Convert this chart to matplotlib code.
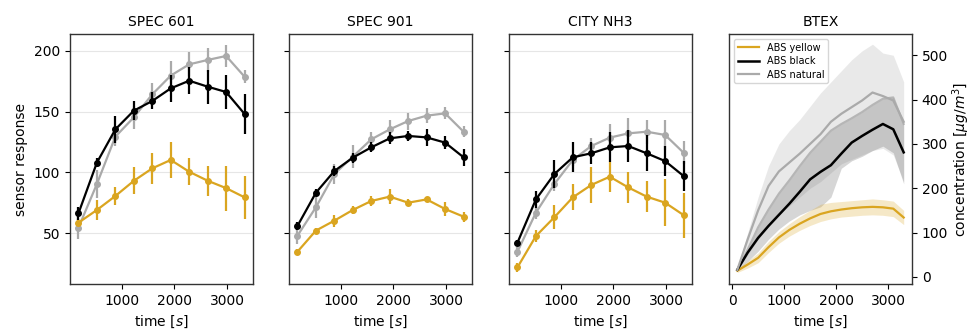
import numpy as np
import matplotlib
matplotlib.use("Agg")
import matplotlib.pyplot as plt

# ---------------- data ----------------
time_pts = [180, 530, 880, 1230, 1580, 1930, 2280, 2630, 2980, 3330]

spec601_yellow = [58.5, 69, 80.5, 93, 103.3, 110.2, 100.5, 93.1, 87, 79.4]
spec601_yellow_err = [3, 8, 7.5, 11, 13, 14.5, 11, 12.4, 18.5, 17.5]
spec601_black = [66.2, 108, 135.4, 150.8, 158.8, 169.2, 175.5, 170.6, 166.2, 148.1]
spec601_black_err = [5.5, 4, 11, 8, 7, 11, 11, 14, 14, 16.5]
spec601_natural = [54.4, 90.4, 129.4, 145.3, 164.3, 179.7, 189, 192.6, 195.9, 178.8]
spec601_natural_err = [9.6, 11.7, 7.5, 9.6, 9.6, 12, 10, 9.5, 9, 5.5]

spec901_yellow = [34.6, 52, 60.2, 69, 76.4, 80, 75, 77.7, 69.8, 63.5]
spec901_yellow_err = [2, 2.5, 5, 3.5, 4, 6, 3, 2, 6, 4]
spec901_black = [55.8, 83.2, 101.1, 112.1, 120.6, 128, 130, 128.8, 124.5, 112.4]
spec901_black_err = [3, 3, 4, 4, 4, 5, 4, 7, 5.5, 7]
spec901_natural = [47.8, 71.2, 98.6, 112.9, 127.2, 135.4, 142.3, 146.7, 148.6, 133.5]
spec901_natural_err = [7, 9, 8, 9.6, 6, 7.5, 7, 6, 5, 4.7]

cityNH3_yellow = [21.7, 47.5, 63, 79.4, 89.6, 96.4, 87.6, 80, 75, 64.8]
cityNH3_yellow_err = [3.4, 5, 10, 10.7, 15, 12.4, 13, 13, 19.5, 18.5]
cityNH3_black = [42, 77.7, 98.6, 112.4, 115.7, 120.6, 121.7, 115.7, 109.3, 97]
cityNH3_black_err = [2, 7, 11.7, 12.4, 9, 12.4, 13, 14.7, 12.4, 12.4]
cityNH3_natural = [34.6, 66.8, 90.4, 110.2, 121.7, 128.6, 132.1, 133.5, 130.8, 116.2]
cityNH3_natural_err = [4, 5, 5.5, 5, 7, 11.4, 12.4, 10, 12.4, 9.6]

btex_time = [100, 300, 500, 700, 900, 1100, 1300, 1500, 1700, 1900, 2100, 2300, 2500, 2700, 2900, 3100, 3300]
btex_yellow = [14, 28, 43, 67, 89, 106, 120, 132, 142, 148, 152, 155, 157, 158, 157, 154, 134]
btex_yellow_lo = [10, 20, 32, 55, 76, 92, 105, 116, 125, 131, 135, 137, 139, 140, 139, 136, 118]
btex_yellow_hi = [18, 36, 54, 80, 102, 120, 136, 150, 164, 168, 170, 172, 174, 176, 174, 171, 150]
btex_black = [16, 55, 88, 115, 140, 165, 192, 220, 237, 252, 278, 303, 318, 332, 345, 333, 281]
btex_black_lo = [14, 35, 58, 85, 108, 126, 140, 150, 158, 180, 245, 262, 272, 285, 295, 280, 210]
btex_black_hi = [16, 62, 112, 152, 188, 218, 250, 280, 305, 330, 345, 358, 372, 388, 402, 405, 345]
btex_natural = [16, 85, 150, 205, 238, 258, 278, 300, 322, 350, 368, 383, 398, 416, 408, 398, 350]
btex_natural_lo = [15, 50, 85, 115, 140, 160, 180, 200, 215, 235, 255, 265, 275, 285, 290, 275, 215]
btex_natural_hi = [18, 100, 180, 250, 300, 330, 355, 385, 415, 440, 465, 490, 510, 525, 505, 500, 440]

titles = ["SPEC 601", "SPEC 901", "CITY NH3", "BTEX"]
labels = ["ABS yellow", "ABS black", "ABS natural"]

# ---------------- style ----------------
C_YEL = "#daa520"
C_BLK = "#000000"
C_NAT = "#aaaaaa"

plt.rcParams["font.family"] = ["DejaVu Sans"]
plt.rcParams["font.size"] = 10

fig = plt.figure(figsize=(9.73, 3.31), dpi=100)
W, H = 973, 331
lefts = [70, 289, 509, 729]
aw, top, bot = 183, 34, 284
axes = [fig.add_axes([l / W, 1 - bot / H, aw / W, (bot - top) / H]) for l in lefts]

panels = [
    (spec601_yellow, spec601_yellow_err, spec601_black, spec601_black_err, spec601_natural, spec601_natural_err),
    (spec901_yellow, spec901_yellow_err, spec901_black, spec901_black_err, spec901_natural, spec901_natural_err),
    (cityNH3_yellow, cityNH3_yellow_err, cityNH3_black, cityNH3_black_err, cityNH3_natural, cityNH3_natural_err),
]

for i, (ax, p) in enumerate(zip(axes[:3], panels)):
    yv, ye, bv, be, nv, ne = p
    for vals, errs, col, z in [(nv, ne, C_NAT, 2), (yv, ye, C_YEL, 3), (bv, be, C_BLK, 4)]:
        ax.errorbar(time_pts, vals, yerr=errs, color=col, marker="o", ms=4,
                    lw=1.6, elinewidth=1.6, capsize=0, zorder=z)
    ax.set_ylim(8, 214)
    ax.set_yticks([50, 100, 150, 200])
    ax.yaxis.grid(True, color="#e6e6e6", lw=0.8)
    ax.set_axisbelow(True)
    if i > 0:
        ax.set_yticklabels([])
    else:
        ax.set_ylabel("sensor response")

ax = axes[3]
ax.fill_between(btex_time, btex_natural_lo, btex_natural_hi, color=C_NAT, alpha=0.25, lw=0)
ax.fill_between(btex_time, btex_black_lo, btex_black_hi, color="#555555", alpha=0.24, lw=0)
ax.fill_between(btex_time, btex_yellow_lo, btex_yellow_hi, color=C_YEL, alpha=0.25, lw=0)
ax.plot(btex_time, btex_black_hi, color=C_NAT, lw=1.5, alpha=0.8)
ax.plot(btex_time, btex_yellow, color=C_YEL, lw=1.6, label=labels[0])
ax.plot(btex_time, btex_black, color=C_BLK, lw=1.8, label=labels[1])
ax.plot(btex_time, btex_natural, color=C_NAT, lw=1.6, label=labels[2])
ax.set_ylim(-16, 548)
ax.set_yticks([0, 100, 200, 300, 400, 500])
ax.yaxis.tick_right()
ax.yaxis.set_label_position("right")
ax.set_ylabel(r"concentration [$\mu g/m^3$]", labelpad=2)
ax.legend(loc="upper left", fontsize=7, frameon=True, handlelength=2.2,
          borderpad=0.4, labelspacing=0.35)

for ax, t in zip(axes, titles):
    ax.set_title(t, fontsize=10, pad=6)
    ax.set_xlim(-60 if t == "BTEX" else 20, 3460 if t == "BTEX" else 3490)
    ax.set_xticks([0, 1000, 2000, 3000] if t == "BTEX" else [1000, 2000, 3000])
    ax.set_xlabel("time [$s$]")
    for s in ax.spines.values():
        s.set_color("#333333")
        s.set_linewidth(1.0)

fig.savefig("out.png", dpi=100)
